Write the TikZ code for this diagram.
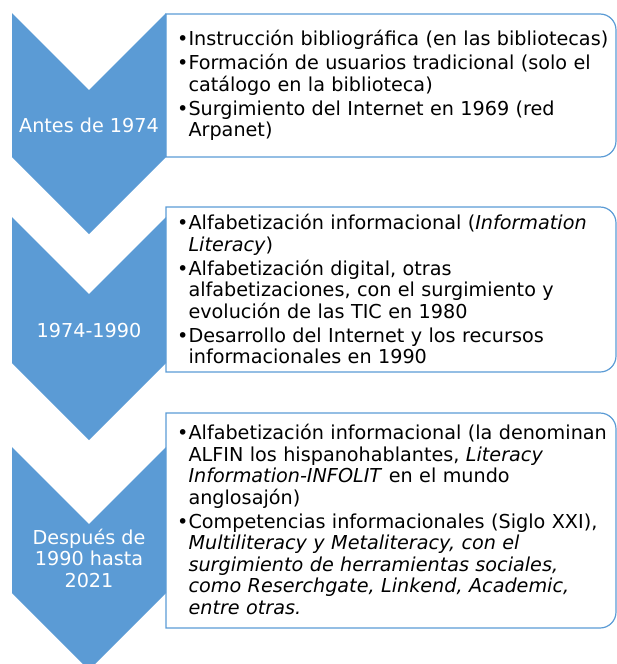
\documentclass[tikz,border=0pt]{standalone}
\usepackage{fontspec}
\setmainfont{DejaVu Sans}
\usepackage{tikz}

\definecolor{azul}{HTML}{5B9BD5}
\newlength{\bulw}
\newcommand{\itm}{\par\settowidth{\bulw}{\textbullet}\hangindent=\bulw\hangafter=1\noindent\textbullet}

\begin{document}
\begin{tikzpicture}[x=1pt,y=-1pt,
    chevron/.style={fill=azul},
    caja/.style={draw=azul,line width=1.2pt},
    etiqueta/.style={text=white,align=center,font=\fontsize{19.2}{21.5}\selectfont},
    lista/.style={anchor=west,inner sep=0pt,text width=445pt,align=left,
      font=\fontsize{19.2}{21.5}\selectfont\setlength{\parskip}{2.5pt}}]
  \useasboundingbox (0,0) rectangle (617,664);

  \fill[chevron] (12,13) -- (89,90) -- (166,13) -- (166,157) -- (89,234) -- (12,157) -- cycle;
  \fill[chevron] (12,217) -- (89,294) -- (166,217) -- (166,363) -- (89,440) -- (12,363) -- cycle;
  \fill[chevron] (12,447) -- (89,524) -- (166,447) -- (166,593) -- (89,670) -- (12,593) -- cycle;

  \draw[caja] (166,14) -- (600,14) arc(-90:0:16) -- (616,141) arc(0:90:16) -- (166,157) -- cycle;
  \draw[caja] (166,207) -- (600,207) arc(-90:0:16) -- (616,356) arc(0:90:16) -- (166,372) -- cycle;
  \draw[caja] (166,413) -- (600,413) arc(-90:0:16) -- (616,612) arc(0:90:16) -- (166,628) -- cycle;

  \node[etiqueta] (antes) at (89,125.5) {Antes de 1974};
  \node[etiqueta] (medio) at (89,330.5) {1974-1990};
  \node[etiqueta] (despues) at (89,558) {Después de\\1990 hasta\\2021};

  \node[lista] (lista1) at (177,81) {%
    \itm Instrucción bibliográfica (en las bibliotecas)
    \itm Formación de usuarios tradicional (solo el\newline catálogo en la biblioteca)
    \itm Surgimiento del Internet en 1969 (red\newline Arpanet)\par};
  \node[lista] (lista2) at (177,285) {%
    \itm Alfabetización informacional (\textit{Information\newline Literacy})
    \itm Alfabetización digital, otras\newline alfabetizaciones, con el surgimiento y\newline evolución de las TIC en 1980
    \itm Desarrollo del Internet y los recursos\newline informacionales en 1990\par};
  \node[lista] (lista3) at (177,515) {%
    \itm Alfabetización informacional (la denominan\newline ALFIN los hispanohablantes, \textit{Literacy\newline Information-INFOLIT} en el mundo\newline anglosajón)
    \itm Competencias informacionales (Siglo XXI),\newline \textit{Multiliteracy y Metaliteracy, con el\newline surgimiento de herramientas sociales,\newline como Reserchgate, Linkend, Academic,\newline entre otras.}\par};
\end{tikzpicture}
\end{document}
